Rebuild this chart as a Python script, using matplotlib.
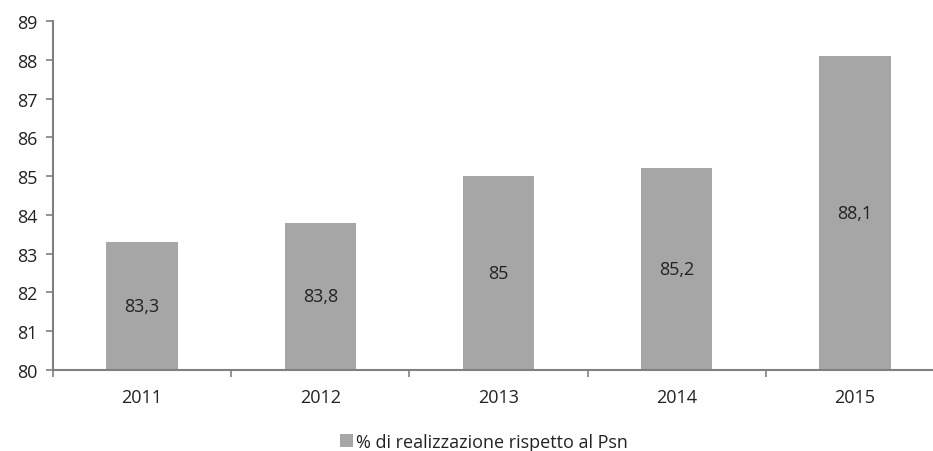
import matplotlib.pyplot as plt
import numpy as np

plt.rcParams['font.family'] = ['Open Sans', 'DejaVu Sans']

years = ["2011", "2012", "2013", "2014", "2015"]
values = [83.3, 83.8, 85.0, 85.2, 88.1]
value_labels = ["83,3", "83,8", "85", "85,2", "88,1"]
legend_label = "% di realizzazione rispetto al Psn"

fs = 13
fig = plt.figure(figsize=(9.33, 4.52), dpi=100)
# axes box: x from 53px to 944px, y from 22px to 371px (top-origin)
ax = fig.add_axes([53 / 933, 1 - 371 / 452, (944 - 53) / 933, (371 - 22) / 452])

x = np.arange(len(years))
ax.bar(x, np.array(values) - 80, bottom=80, width=0.4,
       color="#a6a6a6", label=legend_label)

for xi, v, lab in zip(x, values, value_labels):
    ax.text(xi, (80 + v) / 2, lab, ha="center", va="center",
            fontsize=fs, color="#222222")

ax.set_xlim(-0.5, len(years) - 0.5)
ax.set_ylim(80, 89)
ax.set_yticks(range(80, 90))
ax.tick_params(axis="y", labelsize=fs, length=5, width=1.2,
               color="#808080", pad=6, labelcolor="#222222")

# category labels centred, ticks at the boundaries
ax.set_xticks(np.arange(-0.5, len(years), 1.0))
ax.set_xticklabels([])
ax.set_xticks(x, minor=True)
ax.set_xticklabels(years, minor=True)
ax.tick_params(axis="x", which="major", length=5, width=1.2, color="#808080")
ax.tick_params(axis="x", which="minor", length=0, labelsize=fs, pad=13,
               labelcolor="#222222")

for side in ["top", "right"]:
    ax.spines[side].set_visible(False)
for side in ["left", "bottom"]:
    ax.spines[side].set_color("#808080")
    ax.spines[side].set_linewidth(1.5)

fig.legend(loc="center", bbox_to_anchor=(484 / 933, 1 - 443 / 452),
           frameon=False, fontsize=fs, handlelength=0.7, handleheight=0.7,
           handletextpad=0.2, labelcolor="#222222")

fig.savefig("out.png", dpi=100)
